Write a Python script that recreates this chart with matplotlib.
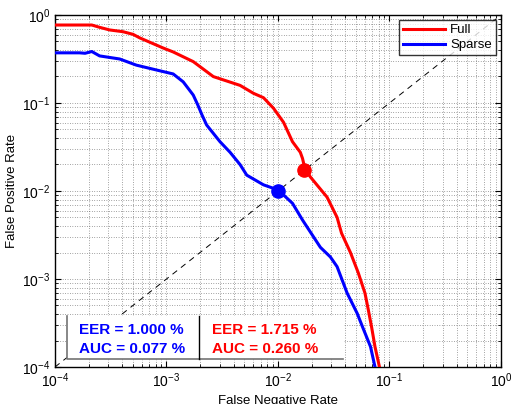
import numpy as np
import matplotlib
matplotlib.use("Agg")
import matplotlib.pyplot as plt
from matplotlib.patches import Rectangle
from matplotlib.lines import Line2D

plt.rcParams['font.family'] = ['Liberation Sans', 'DejaVu Sans']
plt.rcParams['mathtext.default'] = 'regular'

# Full (red) curve: log10 FNR, log10 FPR
full_logx = [-4.0, -3.67, -3.60, -3.51, -3.39, -3.30, -3.24, -3.03, -2.94, -2.76, -2.58,
             -2.34, -2.22, -2.13, -2.04, -1.95, -1.87, -1.80, -1.78, -1.76, -1.71, -1.56,
             -1.47, -1.43, -1.35, -1.28, -1.22, -1.19, -1.16, -1.13, -1.09]
full_logy = [-0.114, -0.114, -0.14, -0.17, -0.19, -0.22, -0.26, -0.375, -0.42, -0.53, -0.70,
             -0.80, -0.89, -0.94, -1.06, -1.22, -1.44, -1.56, -1.63, -1.74, -1.84, -2.07,
             -2.30, -2.48, -2.70, -2.93, -3.16, -3.35, -3.55, -3.77, -4.0]

# Sparse (blue) curve
sparse_logx = [-4.0, -3.78, -3.73, -3.67, -3.60, -3.42, -3.27, -3.09, -2.94, -2.85, -2.76,
               -2.72, -2.68, -2.64, -2.52, -2.43, -2.34, -2.28, -2.13, -2.04, -2.0, -1.98,
               -1.87, -1.78, -1.62, -1.53, -1.47, -1.38, -1.29, -1.24, -1.17, -1.13]
sparse_logy = [-0.43, -0.43, -0.435, -0.415, -0.465, -0.50, -0.57, -0.625, -0.67, -0.76, -0.91,
               -1.02, -1.14, -1.25, -1.44, -1.56, -1.70, -1.82, -1.93, -1.97, -2.0, -2.01,
               -2.14, -2.33, -2.64, -2.75, -2.86, -3.16, -3.39, -3.55, -3.77, -4.0]

series_labels = ['Full', 'Sparse']
series_colors = ['#ff0000', '#0000ff']
eer_values = [0.01715, 0.0100]
auc_values = [0.00260, 0.00077]

fig = plt.figure(figsize=(5.12, 4.04), dpi=100)
ax = fig.add_axes([0.1074, 0.0916, 0.8711, 0.8713])

ax.set_xscale('log')
ax.set_yscale('log')
ax.set_xlim(1e-4, 1e0)
ax.set_ylim(1e-4, 1e0)

# diagonal
diag = np.array([1e-4, 1e0])
ax.plot(diag, diag, color='k', linestyle=(0, (6, 5)), linewidth=0.7, zorder=2)

for lx, ly, c, lab in [(full_logx, full_logy, series_colors[0], series_labels[0]),
                       (sparse_logx, sparse_logy, series_colors[1], series_labels[1])]:
    ax.plot(10 ** np.array(lx), 10 ** np.array(ly), color=c, linewidth=2.2,
            label=lab, zorder=3, solid_joinstyle='round')

for e, c in zip(eer_values, series_colors):
    ax.plot([e], [e], 'o', color=c, markersize=9.5, zorder=4)

ax.grid(True, which='major', linestyle=(0, (1, 2.5)), color='0.3', linewidth=0.5)
ax.grid(True, which='minor', linestyle=(0, (1, 2.5)), color='0.3', linewidth=0.5)
ax.tick_params(which='both', direction='in', top=True, right=True, labelsize=10)
ax.tick_params(which='major', length=4)
ax.tick_params(which='minor', length=2)
for s in ax.spines.values():
    s.set_linewidth(1.0)

ax.set_xlabel('False Negative Rate', fontsize=9.5, labelpad=3)
ax.set_ylabel('False Positive Rate', fontsize=9.5, labelpad=3)

leg = ax.legend(loc='upper right', fontsize=9.5, frameon=True, fancybox=False,
                edgecolor='k', borderpad=0.3, handlelength=3.2, handletextpad=0.4,
                labelspacing=0.2, borderaxespad=0.4)
leg.get_frame().set_linewidth(1.0)
leg.set_zorder(10)

# EER/AUC table box
x0, x1, xm = 0.027, 0.646, 0.323
y0, y1 = 0.023, 0.145
ax.add_patch(Rectangle((x0, y0), x1 - x0, y1 - y0, transform=ax.transAxes,
                       facecolor='white', edgecolor='none', zorder=5))
ax.add_line(Line2D([x0, x0, x1], [y1, y0, y0], transform=ax.transAxes,
                   color='0.45', linewidth=1.2, zorder=6))
ax.add_line(Line2D([xm, xm], [y0, y1], transform=ax.transAxes,
                   color='k', linewidth=1.0, zorder=6))

tx = [0.054, 0.352]
for i, (c, e, a) in enumerate([(series_colors[1], eer_values[1], auc_values[1]),
                               (series_colors[0], eer_values[0], auc_values[0])]):
    ax.text(tx[i], 0.105, 'EER = %.3f %%' % (e * 100), transform=ax.transAxes,
            color=c, fontsize=11, fontweight='bold', va='center', ha='left', zorder=7)
    ax.text(tx[i], 0.052, 'AUC = %.3f %%' % (a * 100), transform=ax.transAxes,
            color=c, fontsize=11, fontweight='bold', va='center', ha='left', zorder=7)

fig.savefig('out.png', dpi=100)
